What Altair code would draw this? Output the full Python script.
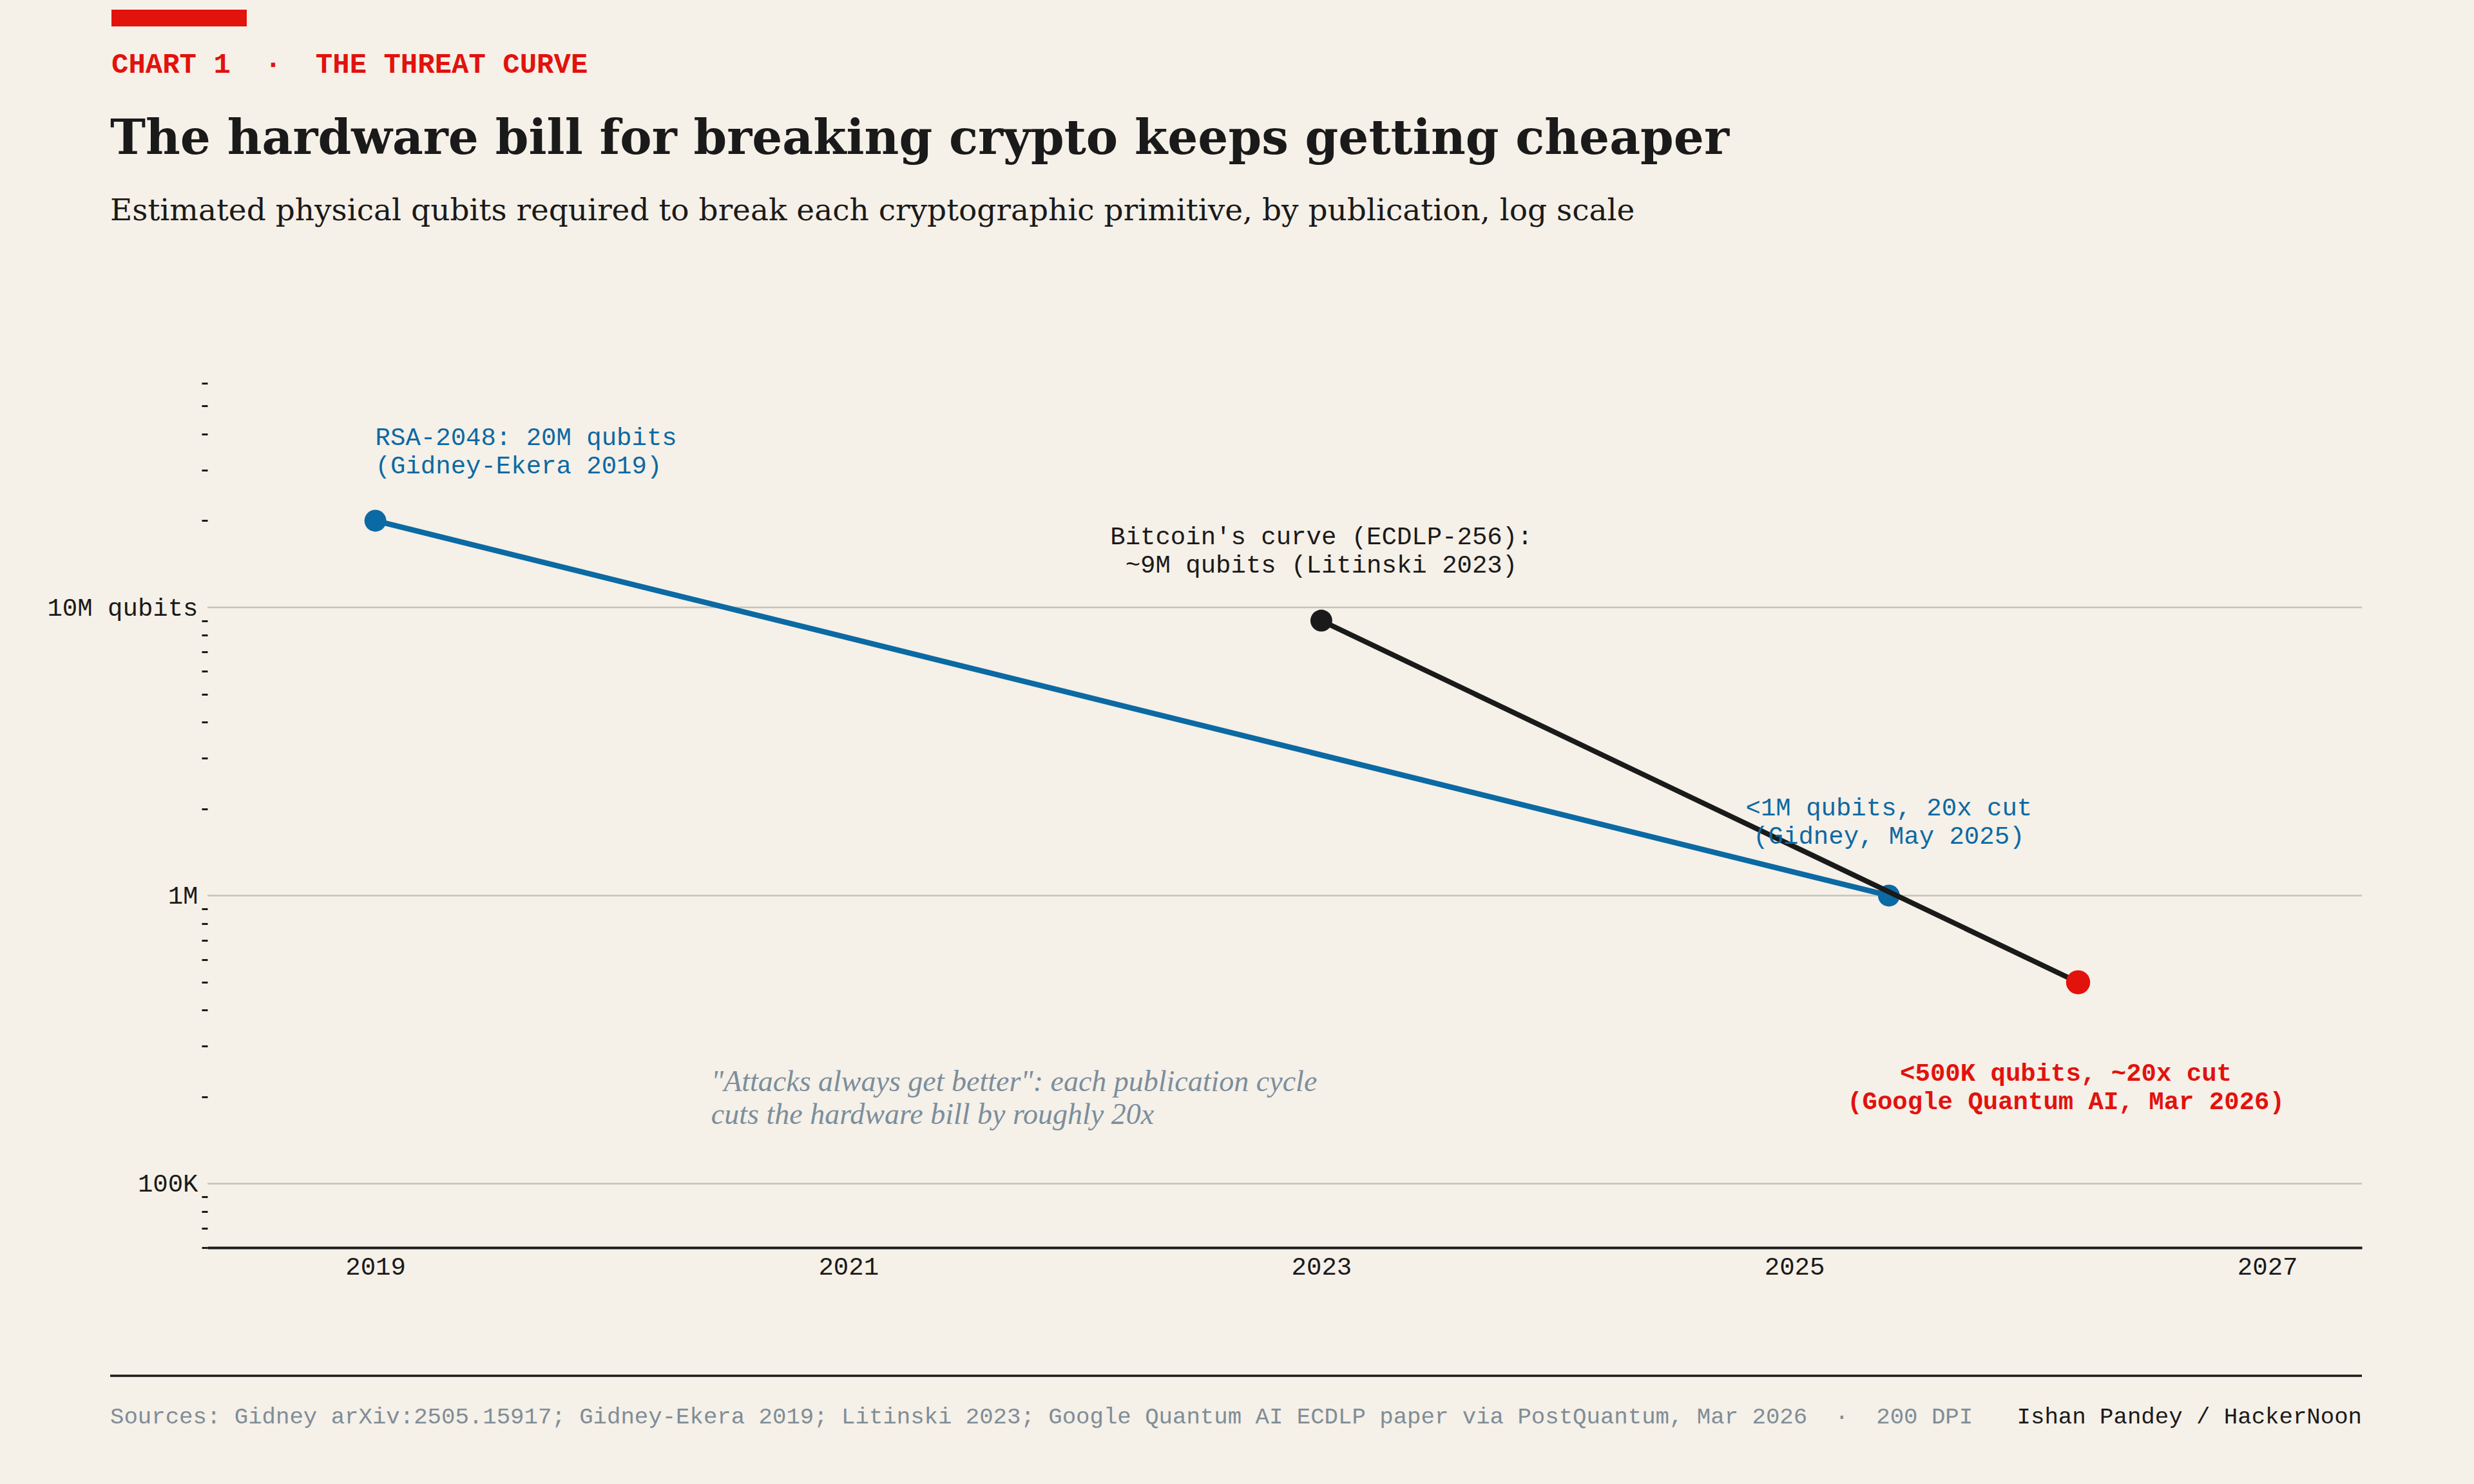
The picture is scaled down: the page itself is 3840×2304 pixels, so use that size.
import altair as alt
import pandas as pd

# ---------------- data ----------------
rsa_year = [2019.0, 2025.4]
rsa_qubits = [20_000_000, 1_000_000]

ecdlp_year = [2023.0, 2026.2]
ecdlp_qubits = [9_000_000, 500_000]

point_year = [2019.0, 2025.4, 2023.0, 2026.2]
point_qubits = [20_000_000, 1_000_000, 9_000_000, 500_000]
point_group = ["rsa", "rsa", "ecdlp", "google"]

x_ticks = [2019, 2021, 2023, 2025, 2027]
y_major = [100_000, 1_000_000, 10_000_000]
y_major_labels = ["100K", "1M", "10M qubits"]
y_minor = [60_000, 70_000, 80_000, 90_000,
           200_000, 300_000, 400_000, 500_000, 600_000, 700_000, 800_000, 900_000,
           2_000_000, 3_000_000, 4_000_000, 5_000_000, 6_000_000, 7_000_000, 8_000_000, 9_000_000,
           20_000_000, 30_000_000, 40_000_000, 50_000_000, 60_000_000]

ann_rsa = "RSA-2048: 20M qubits\n(Gidney-Ekera 2019)"
ann_btc = "Bitcoin's curve (ECDLP-256):\n~9M qubits (Litinski 2023)"
ann_gid = "<1M qubits, 20x cut\n(Gidney, May 2025)"
ann_goo = "<500K qubits, ~20x cut\n(Google Quantum AI, Mar 2026)"
note_text = "\"Attacks always get better\": each publication cycle\ncuts the hardware bill by roughly 20x"
note_year = [2020.42]
note_qubits = [210_000]

NB = "\u00a0"
kicker = f"CHART 1{NB*2}\u00b7{NB*2}THE THREAT CURVE"
title = "The hardware bill for breaking crypto keeps getting cheaper"
subtitle = "Estimated physical qubits required to break each cryptographic primitive, by publication, log scale"
source = f"Sources: Gidney arXiv:2505.15917; Gidney-Ekera 2019; Litinski 2023; Google Quantum AI ECDLP paper via PostQuantum, Mar 2026{NB*2}\u00b7{NB*2}200 DPI"
byline = "Ishan Pandey / HackerNoon"

# ---------------- style ----------------
BG = "#f5f0e8"
INK = "#1a1a1a"
BLUE = "#0b69a3"
RED = "#e2120d"
GRID = "#c6c2ba"
NOTE = "#7b8e9c"
SRC = "#7f8d97"
MONO = "Liberation Mono"
SERIF = "DejaVu Serif"
SERIF_IT = "Liberation Serif"

W, H = 3344, 1342
PAD = {"left": 322, "top": 595, "right": 174, "bottom": 367}

xs = alt.Scale(domain=[2018.29, 2027.4], nice=False, zero=False)
ys = alt.Scale(type="log", domain=[60_000, 60_000_000], nice=False)

label_expr = " : ".join(
    f"datum.value == {v} ? '{t}'" for v, t in zip(y_major, y_major_labels)
) + " : ''"
major_test = " || ".join(f"datum.value == {v}" for v in y_major)

x_axis = alt.Axis(values=x_ticks, format="d", grid=False, ticks=False,
                  domainColor=INK, domainWidth=4, labelFont=MONO, labelFontSize=39,
                  labelColor=INK, labelPadding=10, labelFlush=False, title=None)
y_axis = alt.Axis(values=sorted(y_minor + y_major), labelExpr=label_expr,
                  tickOpacity={"condition": {"test": major_test, "value": 0}, "value": 1},
                  grid=False, domain=False, tickSize=9, tickWidth=3, tickColor=INK,
                  labelFont=MONO, labelFontSize=39, labelColor=INK, labelPadding=6,
                  labelOverlap=False, labelLimit=1000, title=None)


def X(f):
    return alt.X(f"{f}:Q", scale=xs, axis=x_axis)


def Y(f):
    return alt.Y(f"{f}:Q", scale=ys, axis=y_axis)


grid = alt.Chart(pd.DataFrame({"v": y_major})).mark_rule(
    color=GRID, strokeWidth=2.5).encode(y=Y("v"))

rsa_line = alt.Chart(pd.DataFrame({"year": rsa_year, "q": rsa_qubits})).mark_line(
    color=BLUE, strokeWidth=8.5).encode(x=X("year"), y=Y("q"))
ecdlp_line = alt.Chart(pd.DataFrame({"year": ecdlp_year, "q": ecdlp_qubits})).mark_line(
    color=INK, strokeWidth=8).encode(x=X("year"), y=Y("q"))

pts = pd.DataFrame({"year": point_year, "q": point_qubits, "g": point_group})
blue_pts = alt.Chart(pts).transform_filter("datum.g == 'rsa'").mark_circle(
    color=BLUE, size=1150, opacity=1).encode(x=X("year"), y=Y("q"))
black_pts = alt.Chart(pts).transform_filter("datum.g == 'ecdlp'").mark_circle(
    color=INK, size=1150, opacity=1).encode(x=X("year"), y=Y("q"))
red_pts = alt.Chart(pts).transform_filter("datum.g == 'google'").mark_circle(
    color=RED, size=1400, opacity=1).encode(x=X("year"), y=Y("q"))


def annotation(year, q, text, color, align, dx, dy, weight="normal",
               font=MONO, size=39, lh=44, style="normal"):
    df = pd.DataFrame({"year": [year], "q": [q], "t": [text]})
    return alt.Chart(df).mark_text(
        font=font, fontSize=size, fontWeight=weight, fontStyle=style, color=color,
        align=align, baseline="alphabetic", dx=dx, dy=dy, lineBreak="\n",
        lineHeight=lh).encode(x=X("year"), y=Y("q"), text="t:N")


a_rsa = annotation(rsa_year[0], rsa_qubits[0], ann_rsa, BLUE, "left", 0, -117)
a_btc = annotation(ecdlp_year[0], ecdlp_qubits[0], ann_btc, INK, "center", 0, -119)
a_gid = annotation(rsa_year[1], rsa_qubits[1], ann_gid, BLUE, "center", 0, -124)
a_goo = annotation(ecdlp_year[1], ecdlp_qubits[1], ann_goo, RED, "center", -19, 153,
                   weight="bold")
a_note = annotation(note_year[0], note_qubits[0], note_text, NOTE, "left", 0, 0,
                    font=SERIF_IT, size=46, lh=51, style="italic")


def header_text(text, x, y, font, size, color, weight="normal", align="left",
                baseline="alphabetic"):
    return alt.Chart(pd.DataFrame({"t": [text]})).mark_text(
        font=font, fontSize=size, fontWeight=weight, color=color, align=align,
        baseline=baseline).encode(x=alt.value(x), y=alt.value(y), text="t:N")


red_bar = alt.Chart(pd.DataFrame({"k": [0]})).mark_rect(color=RED).encode(
    x=alt.value(-149), x2=alt.value(61), y=alt.value(-580), y2=alt.value(-554))
h_kicker = header_text(kicker, -149, -482, MONO, 44, RED, weight="bold")
h_title = header_text(title, -151, -356, SERIF, 74, INK, weight="bold")
h_sub = header_text(subtitle, -151, -253, SERIF, 47, INK)

foot_rule = alt.Chart(pd.DataFrame({"k": [0]})).mark_rule(
    color=INK, strokeWidth=3.5).encode(
    x=alt.value(-151), x2=alt.value(W), y=alt.value(1541))
f_src = header_text(source, -151, 1604, MONO, 35.7, SRC, baseline="middle")
f_by = header_text(byline, W, 1604, MONO, 35.7, INK, align="right", baseline="middle")

chart = alt.layer(
    grid, rsa_line, blue_pts, ecdlp_line, black_pts, red_pts,
    a_rsa, a_btc, a_gid, a_goo, a_note,
    red_bar, h_kicker, h_title, h_sub, foot_rule, f_src, f_by,
).properties(
    width=W, height=H, padding=PAD,
    autosize=alt.AutoSizeParams(type="none"),
    background=BG,
).configure_view(stroke=None)

chart.save("out.html", embed_options={"renderer": "svg", "actions": False})
